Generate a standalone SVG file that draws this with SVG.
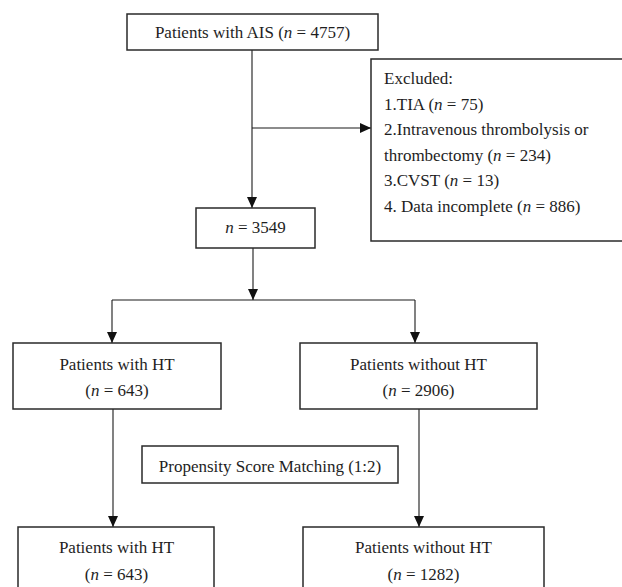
<svg xmlns="http://www.w3.org/2000/svg" width="622" height="587" viewBox="0 0 622 587">
<style>
  .box { fill: #ffffff; stroke: #2a2a2a; stroke-width: 1.5; }
  .t { font-family: "Liberation Serif", "Times New Roman", serif; font-size: 17px; fill: #1e1e1e; }
  .c { text-anchor: middle; }
  .i { font-style: italic; }
  .ln { stroke: #1a1a1a; stroke-width: 1.1; fill: none; }
</style>
<defs>
  <marker id="ah" markerUnits="userSpaceOnUse" markerWidth="12" markerHeight="10" refX="11" refY="5" orient="auto">
    <path d="M0,0 L11,5 L0,10 Z" fill="#111"/>
  </marker>
</defs>
<rect width="622" height="587" fill="#ffffff"/>
<g id="connectors">
  <line class="ln" x1="252" y1="50" x2="252" y2="208" marker-end="url(#ah)"/>
  <line class="ln" x1="252" y1="128" x2="371" y2="128" marker-end="url(#ah)"/>
  <line class="ln" x1="253" y1="248" x2="253" y2="300" marker-end="url(#ah)"/>
  <line class="ln" x1="112" y1="300" x2="415" y2="300"/>
  <line class="ln" x1="112" y1="300" x2="112" y2="343" marker-end="url(#ah)"/>
  <line class="ln" x1="415" y1="300" x2="415" y2="343" marker-end="url(#ah)"/>
  <line class="ln" x1="113" y1="409" x2="113" y2="527" marker-end="url(#ah)"/>
  <line class="ln" x1="419" y1="409" x2="419" y2="527" marker-end="url(#ah)"/>
</g>
<g id="n_ais">
  <rect class="box" x="127" y="14" width="251" height="36"/>
  <text class="t c" x="252.5" y="38">Patients with AIS (<tspan class="i">n</tspan> = 4757)</text>
</g>
<g id="n_excluded">
  <rect class="box" x="371" y="59" width="260" height="182"/>
  <text class="t" x="384" y="84">Excluded:</text>
  <text class="t" x="384" y="109.5">1.TIA (<tspan class="i">n</tspan> = 75)</text>
  <text class="t" x="384" y="135">2.Intravenous thrombolysis or</text>
  <text class="t" x="384" y="160.5">thrombectomy (<tspan class="i">n</tspan> = 234)</text>
  <text class="t" x="384" y="186">3.CVST (<tspan class="i">n</tspan> = 13)</text>
  <text class="t" x="384" y="211.5">4. Data incomplete (<tspan class="i">n</tspan> = 886)</text>
</g>
<g id="n_3549">
  <rect class="box" x="196" y="208" width="119" height="40"/>
  <text class="t c" x="255.5" y="233"><tspan class="i">n</tspan> = 3549</text>
</g>
<g id="n_ht">
  <rect class="box" x="13" y="343" width="208" height="66"/>
  <text class="t c" x="117" y="370">Patients with HT</text>
  <text class="t c" x="117" y="396">(<tspan class="i">n</tspan> = 643)</text>
</g>
<g id="n_noht">
  <rect class="box" x="300" y="343" width="237" height="66"/>
  <text class="t c" x="418.5" y="370">Patients without HT</text>
  <text class="t c" x="418.5" y="396">(<tspan class="i">n</tspan> = 2906)</text>
</g>
<g id="n_psm">
  <rect class="box" x="142" y="446" width="256" height="37"/>
  <text class="t c" x="270" y="472">Propensity Score Matching (1:2)</text>
</g>
<g id="n_ht2">
  <rect class="box" x="18" y="527" width="196" height="80"/>
  <text class="t c" x="116.5" y="553">Patients with HT</text>
  <text class="t c" x="116.5" y="580">(<tspan class="i">n</tspan> = 643)</text>
</g>
<g id="n_noht2">
  <rect class="box" x="303" y="527" width="241" height="80"/>
  <text class="t c" x="423.5" y="553">Patients without HT</text>
  <text class="t c" x="423.5" y="580">(<tspan class="i">n</tspan> = 1282)</text>
</g>
</svg>
